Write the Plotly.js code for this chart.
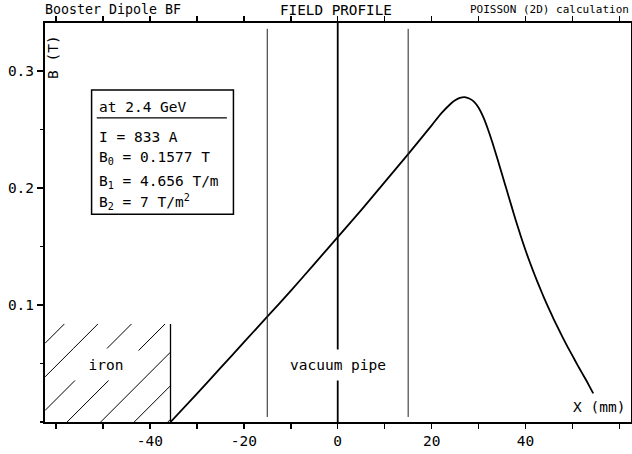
<!DOCTYPE html>
<html>
<head>
<meta charset="utf-8">
<script src="https://cdn.plot.ly/plotly-3.0.1.min.js"></script>
<style>
html,body{margin:0;padding:0;background:#ffffff;}
#chart{width:632px;height:454px;}
</style>
</head>
<body>
<div id="chart"></div>
<script>
// ---- data ----
const fieldX = [-35.6, -30, -25, -20, -15, -10, -5, 0, 5, 10, 15, 20, 22, 24, 25, 26, 27, 28, 29, 30,
                31, 32, 33, 34, 35, 36, 37, 38, 39, 40, 41, 42, 43, 44, 45, 46, 47, 48, 49, 50,
                51, 52, 53, 54, 54.4];
const fieldB = [0.000, 0.024, 0.046, 0.068, 0.090, 0.112, 0.135, 0.158, 0.181, 0.205, 0.229, 0.2535, 0.2635, 0.2718, 0.2750, 0.2770, 0.2777, 0.2765, 0.2738, 0.2685,
                0.2605, 0.2500, 0.2380, 0.2250, 0.2115, 0.1980, 0.1845, 0.1712, 0.1585, 0.1465, 0.1355, 0.1250, 0.1150, 0.1055, 0.0965, 0.0878, 0.0795, 0.0715, 0.0638, 0.0565,
                0.0490, 0.0420, 0.0350, 0.0275, 0.0245];

const xTickVals = [-40, -20, 0, 20, 40];
const xTickText = ['-40', '-20', '0', '20', '40'];
const yTickVals = [0.1, 0.2, 0.3];
const yTickText = ['0.1', '0.2', '0.3'];

const pipeWalls = [-15, 15];
const pipeCenter = 0;
const ironEdgeX = -35.6;
const ironTopB = 0.0838;

const infoLines = ['at 2.4 GeV', 'I = 833 A', 'B<sub>0</sub> = 0.1577 T', 'B<sub>1</sub> = 4.656 T/m', 'B<sub>2</sub> = 7 T/m<sup>2</sup>'];
const infoLineB = [0.2695, 0.2438, 0.2254, 0.2054, 0.1883];

// ---- layout helpers ----
const FONT = 'DejaVu Sans Mono';
const xRange = [-62.32, 62.44];
const yRange = [0, 0.341];

// hatch lines inside the iron region (45 degree in screen space)
const hatchSlope = 0.004015;   // T per mm for 45 deg on screen
const hatchStep = 7.15;        // mm between hatch lines
const hatchX = [], hatchY = [];
for (let k = -2; k < 10; k++) {
  const xb = -79.07 + hatchStep * k;
  const xs = Math.max(xRange[0], xb);
  const xe = Math.min(ironEdgeX, xb + ironTopB / hatchSlope);
  if (xe > xs) {
    hatchX.push(xs, xe, null);
    hatchY.push(hatchSlope * (xs - xb), hatchSlope * (xe - xb), null);
  }
}

const traces = [
  {x: hatchX, y: hatchY, type: 'scatter', mode: 'lines',
   line: {color: '#000', width: 1}, hoverinfo: 'skip', showlegend: false},
  {x: fieldX, y: fieldB, type: 'scatter', mode: 'lines',
   line: {color: '#000', width: 1.8, shape: 'spline', smoothing: 0.6}, hoverinfo: 'skip', showlegend: false}
];

const shapes = [];
pipeWalls.forEach(v => shapes.push({type: 'line', xref: 'x', yref: 'y', x0: v, x1: v, y0: 0.0043, y1: 0.336,
  line: {color: '#222', width: 1}}));
shapes.push({type: 'line', xref: 'x', yref: 'y', x0: pipeCenter, x1: pipeCenter, y0: 0, y1: yRange[1],
  line: {color: '#000', width: 1.8}});
shapes.push({type: 'line', xref: 'x', yref: 'y', x0: ironEdgeX, x1: ironEdgeX, y0: 0, y1: ironTopB,
  line: {color: '#000', width: 1.3}});
// info box
shapes.push({type: 'rect', xref: 'x', yref: 'y', x0: -52.4, x1: -22.2, y0: 0.1775, y1: 0.2838,
  line: {color: '#000', width: 1.5}, fillcolor: 'rgba(0,0,0,0)'});
shapes.push({type: 'line', xref: 'x', yref: 'y', x0: -51.3, x1: -23.6, y0: 0.2600, y1: 0.2600,
  line: {color: '#000', width: 1.2}});

const annotations = [];
const tf = (s) => ({family: FONT, size: s, color: '#000'});
annotations.push({xref: 'paper', yref: 'paper', x: -0.004, y: 1.0326, xanchor: 'left', yanchor: 'middle',
  text: 'Booster Dipole BF', showarrow: false, font: tf(13.3)});
annotations.push({xref: 'paper', yref: 'paper', x: 0.4966, y: 1.0326, xanchor: 'center', yanchor: 'middle',
  text: 'FIELD PROFILE', showarrow: false, font: tf(14.3)});
annotations.push({xref: 'paper', yref: 'paper', x: 1.0, y: 1.0326, xanchor: 'right', yanchor: 'middle',
  text: 'POISSON (2D) calculation', showarrow: false, font: tf(11)});
annotations.push({xref: 'x', yref: 'y', x: -60.6, y: 0.312, textangle: -90, xanchor: 'center', yanchor: 'middle',
  text: 'B (T)', showarrow: false, font: tf(14.5)});
annotations.push({xref: 'x', yref: 'y', x: 61.5, y: 0.0124, xanchor: 'right', yanchor: 'middle',
  text: 'X (mm)', showarrow: false, font: tf(14.5)});
annotations.push({xref: 'x', yref: 'y', x: -49.3, y: 0.0492, xanchor: 'center', yanchor: 'middle',
  text: 'iron', showarrow: false, font: tf(14.5), bgcolor: '#fff', width: 62, height: 29});
annotations.push({xref: 'x', yref: 'y', x: 0.1, y: 0.0483, xanchor: 'center', yanchor: 'middle',
  text: 'vacuum pipe', showarrow: false, font: tf(14.5), bgcolor: '#fff', width: 100, height: 28});
infoLines.forEach((t, i) => annotations.push({xref: 'x', yref: 'y', x: -51.25, y: infoLineB[i],
  xanchor: 'left', yanchor: 'middle', text: t, showarrow: false, font: tf(14.5)}));

const layout = {
  width: 632, height: 454,
  margin: {l: 45, r: 1, t: 23, b: 32, pad: 0},
  paper_bgcolor: '#fff', plot_bgcolor: '#fff',
  showlegend: false,
  xaxis: {range: xRange, showgrid: false, zeroline: false, showline: true, linecolor: '#000', linewidth: 2,
          mirror: 'ticks', ticks: 'outside', ticklen: 5, tickwidth: 1.5, tickcolor: '#000',
          tickmode: 'array', tickvals: xTickVals, ticktext: xTickText, tickfont: tf(14.5),
          minor: {tickmode: 'linear', tick0: 0, dtick: 10, ticks: 'outside', ticklen: 5, tickwidth: 1.5, tickcolor: '#000'}},
  yaxis: {range: yRange, showgrid: false, zeroline: false, showline: true, linecolor: '#000', linewidth: 2,
          mirror: 'ticks', ticks: 'outside', ticklen: 6, tickwidth: 1.5, tickcolor: '#000',
          tickmode: 'array', tickvals: yTickVals, ticktext: yTickText, tickfont: tf(14.5),
          minor: {tickmode: 'linear', tick0: 0, dtick: 0.05, ticks: 'outside', ticklen: 3, tickwidth: 1.5, tickcolor: '#000'}},
  shapes: shapes,
  annotations: annotations
};

Plotly.newPlot('chart', traces, layout, {staticPlot: true, displayModeBar: false});
</script>
</body>
</html>
